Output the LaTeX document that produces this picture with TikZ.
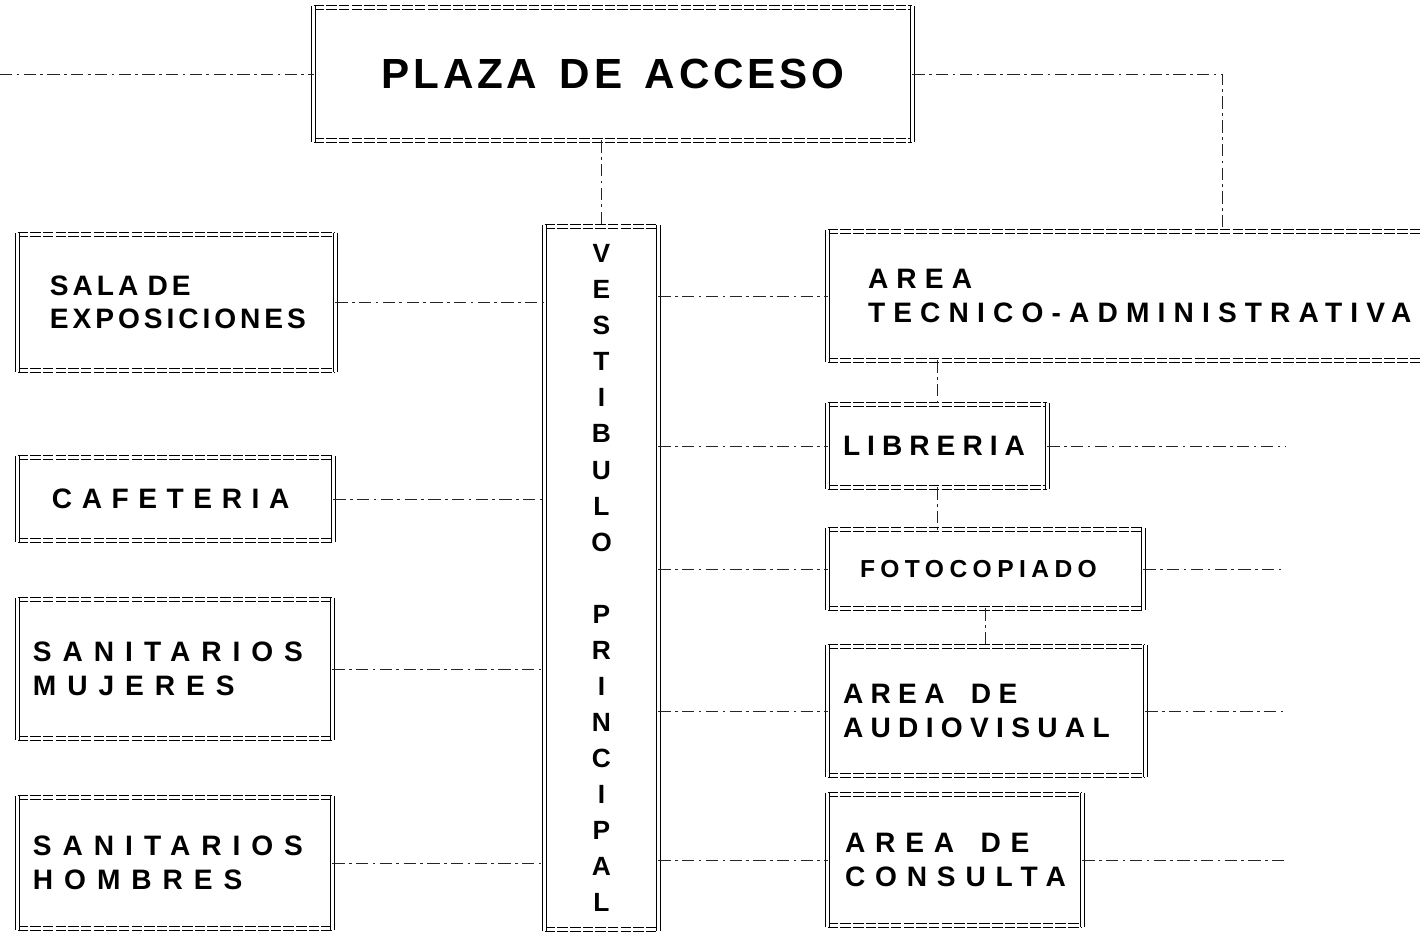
\documentclass[tikz,border=0pt]{standalone}
\usepackage{fontspec}
\newfontfamily\roomfont{Liberation Sans}
\newcommand\spread[1]{\addfontfeature{LetterSpace=#1}}
\newcommand\wgap{\hspace{15pt}}
\usetikzlibrary{positioning}

\begin{document}
\begin{tikzpicture}[
  x=0.2mm, y=-0.2mm,
  room/.style={inner ysep=0pt, align=left, anchor=center,
               font=\roomfont\bfseries\fontsize{16}{19}\selectfont},
  rail/.style={draw=black, line width=0.8pt, double=white, double distance=1.5pt},
  chain/.style={draw=black, line width=0.7pt, double=white, double distance=1.4pt,
                dash pattern=on 6pt off 1.2pt},
  link/.style={draw=black!85, line width=0.5pt,
               dash pattern=on 7pt off 2.5pt on 1.5pt off 2.5pt},
]
\useasboundingbox (0,0) rectangle (1420,932);

% ---------- access and hall ----------
\node[room, align=center, inner xsep=0pt, minimum width=119.6mm, minimum height=26.4mm,
      font=\roomfont\bfseries\fontsize{24}{28}\selectfont] (plaza) at (613,74)
  {\spread{9}PLAZA\hspace{4pt} DE\hspace{4pt} ACCESO};
\node[room, align=center, inner xsep=0pt, minimum width=22.6mm, minimum height=140.4mm,
      font=\roomfont\bfseries\fontsize{15}{20.5}\selectfont] (vest) at (601.5,578)
  {V\\E\\S\\T\\I\\B\\U\\L\\O\\[20.5pt]P\\R\\I\\N\\C\\I\\P\\A\\L};

% ---------- left wing ----------
\node[room, inner xsep=6.4mm, text width=50.6mm, minimum height=27mm] (sala) at (176.5,302.5)
  {\spread{14}SALA DE\\EXPOSICIONES};
\node[room, inner xsep=6.8mm, text width=49.4mm, minimum height=16.4mm] (cafe) at (175.5,499)
  {\spread{34}CAFETERIA};
\node[room, inner xsep=3mm, text width=56.8mm, minimum height=27.6mm] (mujeres) at (175,669)
  {\spread{39}SANITARIOS\\MUJERES};
\node[room, inner xsep=3mm, text width=56.8mm, minimum height=26mm] (hombres) at (175,863)
  {\spread{39}SANITARIOS\\HOMBRES};

% ---------- right wing ----------
\node[room, inner xsep=8mm, text width=104.4mm, minimum height=25.6mm] (tec) at (1129,296)
  {\spread{29}AREA\\\mbox{TECNICO-ADMINISTRATIVA}};
\node[room, inner xsep=3mm, text width=37.8mm, minimum height=16.4mm] (lib) at (937.5,446)
  {\spread{25}LIBRERIA};
\node[room, inner xsep=6.4mm, text width=50.2mm, minimum height=15.6mm,
      font=\roomfont\bfseries\fontsize{14}{17}\selectfont] (foto) at (985.5,569)
  {\spread{22}FOTOCOPIADO};
\node[room, inner xsep=3mm, text width=57.4mm, minimum height=25.6mm] (audio) at (986.5,711)
  {\spread{26}AREA\wgap DE\\AUDIOVISUAL};
\node[room, inner xsep=3.4mm, text width=44mm, minimum height=26mm] (consulta) at (955,860)
  {\spread{35}AREA\wgap DE\\CONSULTA};

% ---------- frames ----------
\foreach \n in {plaza,vest,sala,cafe,mujeres,hombres,tec,lib,foto,audio,consulta} {
  \draw[chain] (\n.north west) -- (\n.north east);
  \draw[chain] (\n.south west) -- (\n.south east);
  \draw[rail] ([yshift=1pt]\n.north west) -- ([yshift=-1pt]\n.south west);
  \draw[rail] ([yshift=1pt]\n.north east) -- ([yshift=-1pt]\n.south east);
}

% ---------- free ends ----------
\coordinate (west) at (0,74);
\coordinate (feed) at (1222,74);
\coordinate (stub) at (1285,0);

% ---------- connectors ----------
\draw[link] (west) -- (plaza.west);
\draw[link] (plaza.east) -- (feed) -- (feed |- tec.north);
\draw[link] (plaza.south -| vest.north) -- (vest.north);

\foreach \n in {sala,cafe,mujeres,hombres}
  \draw[link] (\n.east) -- (\n.east -| vest.west);
\foreach \n in {tec,lib,foto,audio,consulta}
  \draw[link] (vest.east |- \n.west) -- (\n.west);
\foreach \n in {lib,foto,audio,consulta}
  \draw[link] (\n.east) -- (\n.east -| stub);

\draw[link] (lib.north |- tec.south) -- (lib.north);
\draw[link] (lib.south) -- (lib.south |- foto.north);
\draw[link] (foto.south) -- (foto.south |- audio.north);

\end{tikzpicture}
\end{document}
